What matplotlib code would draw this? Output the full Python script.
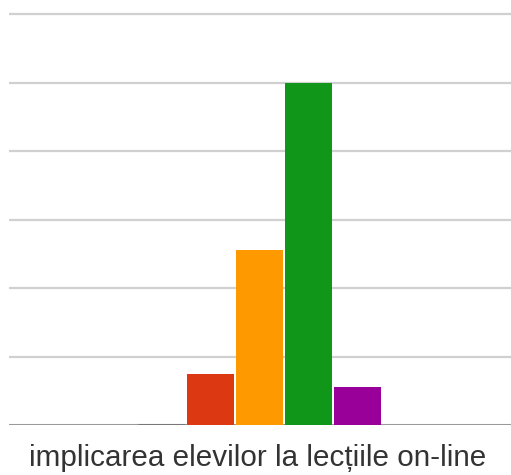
import numpy as np
import matplotlib
matplotlib.use('Agg')
import matplotlib.pyplot as plt

plt.rcParams['font.family'] = ['Liberation Sans', 'DejaVu Sans']

# data (gridlines every 20)
categories = ['c1', 'c2', 'c3', 'c4', 'c5']
values = [0, 15, 51, 100, 11]
colors = ['#3366cc', '#dc3912', '#ff9900', '#109618', '#990099']
grid_ticks = [0, 20, 40, 60, 80, 100, 120]
label = 'implicarea elevilor la lecțiile on-line'

W, H = 511, 475
fig = plt.figure(figsize=(W / 100, H / 100), dpi=100)
ax = fig.add_axes([9 / W, 50 / H, 1 - 9 / W, 1 - 50 / H])

x = np.arange(len(categories))
bars = ax.bar(x, values, width=0.94, color=colors, linewidth=0, zorder=3)
for b, v in zip(bars, values):
    if v == 0:
        ax.hlines(0, b.get_x(), b.get_x() + b.get_width(), color='#777777',
                  linewidth=2.2, zorder=4)

# 49 px per category, first bar centred at px 161.5
px = 49.0
ax.set_xlim((9 - 161.5) / px, (511 - 161.5) / px)
ax.set_ylim(0, 120 + 14 / 68.5 * 20)

for t in grid_ticks[1:]:
    ax.axhline(t, color='#d0d0d0', linewidth=1.6, zorder=1)
ax.axhline(0, color='#9a9a9a', linewidth=2.2, zorder=2)

ax.set_xticks([])
ax.set_yticks([])
for s in ax.spines.values():
    s.set_visible(False)

fig.text(258 / W, 1 - 466 / H, label, ha='center', va='baseline',
         fontsize=21.3, color='#333333')

fig.savefig('out.png', dpi=100)
